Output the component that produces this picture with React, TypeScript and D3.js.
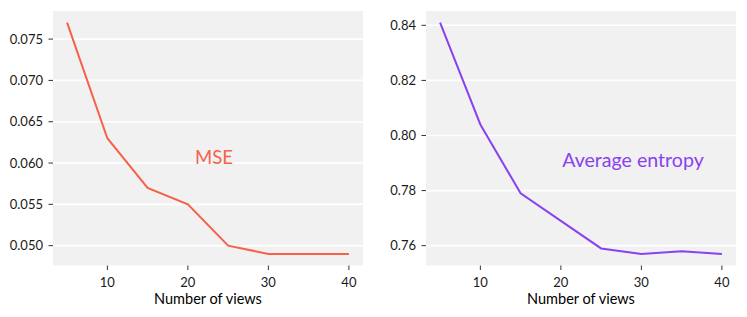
import React, { useEffect, useRef } from 'react'
import * as d3 from 'd3'

const views = [5, 10, 15, 20, 25, 30, 35, 40]
const mseValues = [0.077, 0.063, 0.057, 0.055, 0.05, 0.049, 0.049, 0.049]
const entropyValues = [0.841, 0.804, 0.779, 0.769, 0.759, 0.757, 0.758, 0.757]
const xTicks = [10, 20, 30, 40]
const mseTicks = [0.05, 0.055, 0.06, 0.065, 0.07, 0.075]
const entropyTicks = [0.76, 0.78, 0.8, 0.82, 0.84]

const FONT = 'Lato, "Open Sans", sans-serif'

interface IPanel {
  left: number
  right: number
  values: number[]
  ticks: number[]
  fmt: (v: number) => string
  color: string
  label: string
  labelX: number
  labelY: number
  labelSize: number
}

const panels: IPanel[] = [
  {
    left: 53,
    right: 363,
    values: mseValues,
    ticks: mseTicks,
    fmt: d3.format('.3f'),
    color: '#f4624a',
    label: 'MSE',
    labelX: 214,
    labelY: 163.5,
    labelSize: 18.5
  },
  {
    left: 426,
    right: 736,
    values: entropyValues,
    ticks: entropyTicks,
    fmt: d3.format('.2f'),
    color: '#8a42f0',
    label: 'Average entropy',
    labelX: 633,
    labelY: 166.5,
    labelSize: 19.6
  }
]

const top = 11
const bottom = 265.5

const App = () => {
  const ref = useRef<SVGSVGElement>(null)

  useEffect(() => {
    const svg = d3.select(ref.current)
    svg.selectAll('*').remove()

    panels.forEach(p => {
      const g = svg.append('g')
      const xPad = (d3.max(views)! - d3.min(views)!) * 0.05
      const x = d3
        .scaleLinear()
        .domain([d3.min(views)! - xPad, d3.max(views)! + xPad])
        .range([p.left, p.right])
      const [lo, hi] = d3.extent(p.values) as [number, number]
      const yPad = (hi - lo) * 0.05
      const y = d3
        .scaleLinear()
        .domain([lo - yPad, hi + yPad])
        .range([bottom, top])

      g.append('rect')
        .attr('x', p.left)
        .attr('y', top)
        .attr('width', p.right - p.left)
        .attr('height', bottom - top)
        .attr('fill', '#f1f1f1')

      // horizontal grid only
      g.selectAll('.grid')
        .data(p.ticks)
        .join('line')
        .attr('x1', p.left)
        .attr('x2', p.right)
        .attr('y1', d => y(d))
        .attr('y2', d => y(d))
        .attr('stroke', '#ffffff')
        .attr('stroke-width', 1.6)

      // y ticks
      g.selectAll('.ytick')
        .data(p.ticks)
        .join('line')
        .attr('x1', p.left - 4.5)
        .attr('x2', p.left)
        .attr('y1', d => y(d))
        .attr('y2', d => y(d))
        .attr('stroke', '#333')
        .attr('stroke-width', 1)

      g.selectAll('.ylab')
        .data(p.ticks)
        .join('text')
        .attr('x', p.left - 10)
        .attr('y', d => y(d))
        .attr('dy', '0.36em')
        .attr('text-anchor', 'end')
        .attr('font-family', FONT)
        .attr('font-size', 13)
        .attr('fill', '#1a1a1a')
        .text(d => p.fmt(d))

      // x ticks
      g.selectAll('.xtick')
        .data(xTicks)
        .join('line')
        .attr('x1', d => x(d))
        .attr('x2', d => x(d))
        .attr('y1', bottom)
        .attr('y2', bottom + 4.5)
        .attr('stroke', '#333')
        .attr('stroke-width', 1)

      g.selectAll('.xlab')
        .data(xTicks)
        .join('text')
        .attr('x', d => x(d))
        .attr('y', bottom + 21.5)
        .attr('text-anchor', 'middle')
        .attr('font-family', FONT)
        .attr('font-size', 13)
        .attr('fill', '#1a1a1a')
        .text(d => d)

      g.append('text')
        .attr('x', (p.left + p.right) / 2)
        .attr('y', bottom + 38)
        .attr('text-anchor', 'middle')
        .attr('font-family', FONT)
        .attr('font-size', 14.5)
        .attr('fill', '#000')
        .text('Number of views')

      const line = d3
        .line<number>()
        .x((_, i) => x(views[i]))
        .y(d => y(d))

      g.append('path')
        .attr('d', line(p.values))
        .attr('fill', 'none')
        .attr('stroke', p.color)
        .attr('stroke-width', 2)

      g.append('text')
        .attr('x', p.labelX)
        .attr('y', p.labelY)
        .attr('text-anchor', 'middle')
        .attr('font-family', FONT)
        .attr('font-size', p.labelSize)
        .attr('fill', p.color)
        .text(p.label)
    })
  }, [])

  return (
    <svg
      ref={ref}
      width={747}
      height={317}
      style={{ position: 'absolute', left: 0, top: 0, background: '#fff' }}
    />
  )
}

export default App
